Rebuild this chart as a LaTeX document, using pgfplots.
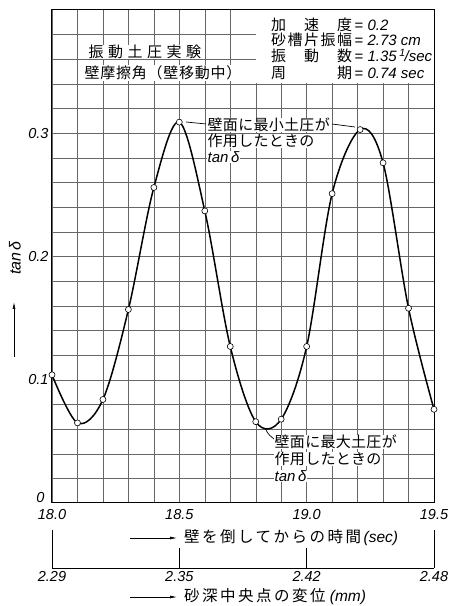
\documentclass[border=0pt]{standalone}
\usepackage{pgfplots}
\pgfplotsset{compat=1.18}
\usepackage{fontspec}
\usetikzlibrary{arrows.meta}
\setmainfont{Liberation Sans}
\newfontfamily\jpn{Noto Sans CJK JP}
\newfontfamily\jp[LetterSpace=2]{Noto Sans CJK JP}
\newfontfamily\jpt[LetterSpace=5]{Noto Sans CJK JP}
\newfontfamily\jpw[LetterSpace=30]{Noto Sans CJK JP}
\newfontfamily\jpx[LetterSpace=16]{Noto Sans CJK JP}
\newcommand\numf{\fontsize{14.5}{14.5}\selectfont\itshape}
\newcommand\jpf{\fontsize{15}{16}\selectfont}
\newcommand\lat[1]{{\rmfamily\itshape #1}}
\pgfplotstableread{
x y
18.0 0.104
18.1 0.065
18.2 0.084
18.3 0.157
18.4 0.256
18.5 0.309
18.6 0.237
18.7 0.127
18.8 0.066
18.9 0.068
19.0 0.127
19.1 0.251
19.21 0.303
19.3 0.276
19.4 0.158
19.5 0.076
}\pts
\begin{document}
\begin{tikzpicture}[x=1pt,y=1pt]
\useasboundingbox (0,0) rectangle (452,606);
\begin{axis}[
  at={(52pt,103pt)}, anchor=south west, scale only axis,
  width=382pt, height=493pt,
  xmin=18, xmax=19.5, ymin=0, ymax=0.4,
  xtick={18,18.5,19,19.5}, xticklabels={18.0,18.5,19.0,19.5},
  minor xtick={18.1,18.2,18.3,18.4,18.6,18.7,18.8,18.9,19.1,19.2,19.3,19.4},
  ytick={0.1,0.2,0.3}, yticklabels={0.1,0.2,0.3},
  extra y ticks={0}, extra y tick labels={0},
  extra y tick style={yticklabel style={xshift=-4pt, yshift=5pt}, grid=none},
  minor ytick={0.02,0.04,0.06,0.08,0.12,0.14,0.16,0.18,0.22,0.24,0.26,0.28,0.32,0.34,0.36,0.38},
  grid=both,
  major grid style={black!60, line width=0.35pt},
  minor grid style={black!60, line width=0.35pt},
  major tick length=0pt, minor tick length=0pt,
  axis line style={line width=1pt},
  ticklabel style={font=\numf},
  xticklabel style={yshift=-3pt},
  clip=false,
]
\addplot[black, line width=1.5pt, smooth, tension=0.55] table[x=x,y=y]{\pts};
\addplot[only marks, mark=*, mark size=3pt, mark options={fill=white, draw=black, line width=0.6pt}] table[x=x,y=y]{\pts};
\end{axis}
% secondary displacement axis
\begin{axis}[
  at={(52pt,38pt)}, anchor=south west, scale only axis,
  width=382pt, height=20pt,
  xmin=18, xmax=19.5, ymin=0, ymax=1,
  hide y axis, axis x line*=bottom,
  xtick={18.5,19}, xticklabels={2.35,2.42},
  extra x ticks={18,19.5}, extra x tick labels={2.29,2.48},
  extra x tick style={major tick length=38pt},
  tick align=inside, major tick length=20pt,
  tick style={line width=0.8pt, black},
  axis line style={line width=0.8pt},
  ticklabel style={font=\numf},
]
\end{axis}
% white box over grid (parameters)
\fill[white] (256,522.5) rectangle (433.5,595.5);
% parameter box
\node[anchor=west, inner sep=0pt, font=\jpf] at (271,581) {\makebox[81pt][s]{\jpn 加\hfill 速\hfill 度}\,= \lat{0.2}};
\node[anchor=west, inner sep=0pt, font=\jpf] at (271,566) {\makebox[81pt][s]{\jpn 砂\hfill 槽\hfill 片\hfill 振\hfill 幅}\,= \lat{2.73 cm}};
\node[anchor=west, inner sep=0pt, font=\jpf] at (271,550) {\makebox[81pt][s]{\jpn 振\hfill 動\hfill 数}\,= \lat{1.35\,\textsuperscript{1}\kern-1pt/sec}};
\node[anchor=west, inner sep=0pt, font=\jpf] at (271,533) {\makebox[81pt][s]{\jpn 周\hfill 期}\,= \lat{0.74 sec}};
% title
\node[anchor=west, inner sep=0.5pt, fill=white, font=\jpf] at (88,554) {\jpw 振動土圧実験};
\node[anchor=west, inner sep=0.5pt, fill=white, font=\jpf] at (84,533) {\jpt 壁摩擦角（壁移動中）};
% upper annotation
\node[anchor=west, inner sep=0.5pt, fill=white, font=\jpf] at (207,481) {\jp 壁面に最小土圧が};
\node[anchor=west, inner sep=0.5pt, fill=white, font=\jpf] at (207,465) {\jp 作用したときの};
\node[anchor=west, inner sep=0.5pt, fill=white, font=\fontsize{15}{15}\selectfont] at (207,449) {\lat{tan\,δ}};
\draw[line width=0.7pt] (186,484) -- (206,482);
\draw[line width=0.7pt] (332,482) -- (355,479);
% lower annotation
\draw[line width=0.7pt] (265,178) .. controls (268,172) .. (274,167);
\node[anchor=west, inner sep=0.5pt, fill=white, font=\jpf] at (274,164) {\jp 壁面に最大土圧が};
\node[anchor=west, inner sep=0.5pt, fill=white, font=\jpf] at (274,147) {\jp 作用したときの};
\node[anchor=west, inner sep=0.5pt, fill=white, font=\fontsize{15}{15}\selectfont] at (274,130) {\lat{tan\,δ}};
% y label
\node[rotate=90, font=\fontsize{16}{16}\selectfont\itshape, inner sep=0pt] at (15,348) {tan\,δ};
\draw[line width=0.7pt, -{Latex[length=7pt,width=3pt]}] (14,249) -- (14,304);
% x labels
\draw[line width=0.7pt, -{Latex[length=7pt,width=3pt]}] (130,68) -- (177,68);
\node[anchor=west, inner sep=0pt, font=\fontsize{15.5}{15.5}\selectfont] at (184,68) {{\jpx 壁を倒してからの時間}\,\lat{(sec)}};
\draw[line width=0.7pt, -{Latex[length=7pt,width=3pt]}] (130,9) -- (177,9);
\node[anchor=west, inner sep=0pt, font=\fontsize{15.5}{15.5}\selectfont] at (184,9) {{\jpx 砂深中央点の変位}\ \lat{(mm)}};
\end{tikzpicture}
\end{document}
